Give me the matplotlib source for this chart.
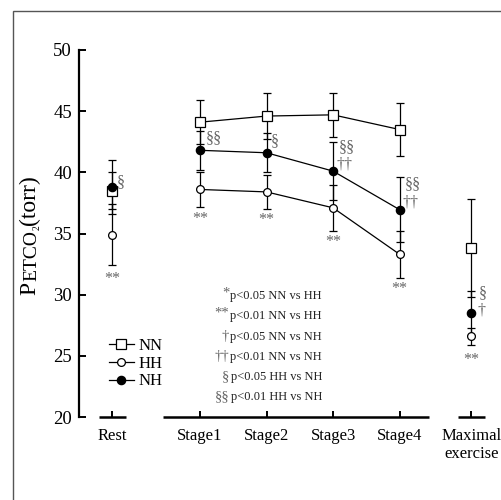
import matplotlib
matplotlib.use('Agg')
import matplotlib.pyplot as plt
from matplotlib.patches import Rectangle

plt.rcParams['font.family'] = ['Liberation Serif', 'DejaVu Serif']

# data
categories = ['Rest', 'Stage1', 'Stage2', 'Stage3', 'Stage4', 'Maximal\nexercise']
x_pos = [-0.32, 1, 2, 3, 4, 5.08]

nn_mean = [38.5, 44.1, 44.6, 44.7, 43.5, 33.8]
nn_sd = [1.5, 1.8, 1.85, 1.8, 2.2, 4.0]
hh_mean = [34.9, 38.6, 38.4, 37.1, 33.3, 26.6]
hh_sd = [2.5, 1.4, 1.4, 1.9, 1.9, 0.7]
nh_mean = [38.8, 41.8, 41.6, 40.1, 36.95, 28.5]
nh_sd = [2.2, 1.6, 1.6, 2.35, 2.65, 1.8]

# significance marks: (category index, y value, text, x offset px)
sig_marks = [
    (0, 39.2, '§', 9), (0, 31.3, '**', 0),
    (1, 42.8, '§§', 14), (1, 36.2, '**', 0),
    (2, 42.55, '§', 8), (2, 36.1, '**', 0),
    (3, 42.1, '§§', 14), (3, 40.6, '††', 11), (3, 34.3, '**', 0),
    (4, 39.0, '§§', 13), (4, 37.5, '††', 11), (4, 30.5, '**', 0),
    (5, 30.1, '§', 11), (5, 28.7, '†', 10), (5, 24.7, '**', 0),
]

key_symbols = ['*', '**', '†', '††', '§', '§§']
key_texts = ['p<0.05 NN vs HH', 'p<0.01 NN vs HH', 'p<0.05 NN vs NH',
             'p<0.01 NN vs NH', 'p<0.05 HH vs NH', 'p<0.01 HH vs NH']

W, H = 502, 500
fig = plt.figure(figsize=(5.02, 5.0), dpi=100)
ax = fig.add_axes([79 / W, 83 / H, 411 / W, 367 / H])
ax.set_xlim(-0.82, 5.36)
ax.set_ylim(20, 50)

# outer frame
fig.patches.append(Rectangle((13 / W, -0.1), 1.2, (489 / H) + 0.1, transform=fig.transFigure,
                             fill=False, edgecolor='#555555', lw=1.0))

stage = slice(1, 5)
series = [
    (nn_mean, nn_sd, 's', 'white', 7.5, 'NN'),
    (hh_mean, hh_sd, 'o', 'white', 5.6, 'HH'),
    (nh_mean, nh_sd, 'o', 'black', 6.0, 'NH'),
]
handles = []
for mean, sd, mk, fc, ms, lab in series:
    ax.errorbar(x_pos, mean, yerr=sd, fmt='none', ecolor='black', elinewidth=0.9,
                capsize=3, capthick=0.9, zorder=2)
    ax.plot(x_pos[stage], mean[stage], color='black', lw=0.9, zorder=3)
    ax.plot(x_pos, mean, ls='none', marker=mk, ms=ms, mfc=fc, mec='black', mew=0.9, zorder=4)
    h, = ax.plot([], [], color='black', lw=0.9, marker=mk, ms=ms, mfc=fc, mec='black', mew=0.9)
    handles.append((h, lab))

for i, y, t, dx in sig_marks:
    ax.annotate(t, xy=(x_pos[i], y), xytext=(dx * 0.72, 0), textcoords='offset points',
                ha='center', va='center', fontsize=11.5, color='#666666')

leg = ax.legend([h for h, _ in handles], [l for _, l in handles], frameon=False,
                loc='upper left', bbox_to_anchor=(109 / W, 1 - 338 / H),
                bbox_transform=fig.transFigure, fontsize=12, handlelength=1.5,
                handletextpad=0.3, labelspacing=0.1, borderpad=0, borderaxespad=0)

# spines / ticks
for s in ['top', 'right', 'bottom']:
    ax.spines[s].set_visible(False)
ax.spines['left'].set_linewidth(1.6)
ax.set_yticks([20, 25, 30, 35, 40, 45, 50])
ax.tick_params(axis='y', direction='in', length=5, width=1.4, pad=5, labelsize=13.5)
ax.set_xticks(x_pos)
ax.set_xticklabels(categories, fontsize=12, linespacing=1.15)
ax.tick_params(axis='x', direction='in', length=4.5, width=1.4, pad=8)
for a, b in [(-0.52, -0.11), (0.44, 4.44), (4.88, 5.29)]:
    ax.plot([a, b], [20, 20], color='black', lw=1.8, clip_on=False, solid_capstyle='butt', zorder=5)

fig.canvas.draw()
r = fig.canvas.get_renderer()

# y label built from pieces: P, ETCO, small 2, (torr)
pieces = [('P', 17, 35), ('ETCO', 14, 36), ('2', 7, 40), ('(torr)', 17, 35)]
ypix = H - 295
for txt, fs, base_x in pieces:
    t = fig.text(base_x / W, ypix / H, txt, rotation=90, rotation_mode='anchor',
                 ha='left', va='baseline', fontsize=fs)
    ypix = t.get_window_extent(r).y1 + 0.5

# significance key
rows = [296, 316, 337, 357, 377, 397]
for sym, txt, py in zip(key_symbols, key_texts, rows):
    t = fig.text(322 / W, 1 - py / H, txt, ha='right', va='center', fontsize=9, color='#222222')
    bb = t.get_window_extent(r)
    raise_px = 3 if '*' in sym else 0
    fig.text(bb.x0 / W - 0.002, (1 - py / H) + raise_px / H, sym, ha='right', va='center',
             fontsize=10.5, color='#666666')

fig.savefig('out.png', dpi=100)
